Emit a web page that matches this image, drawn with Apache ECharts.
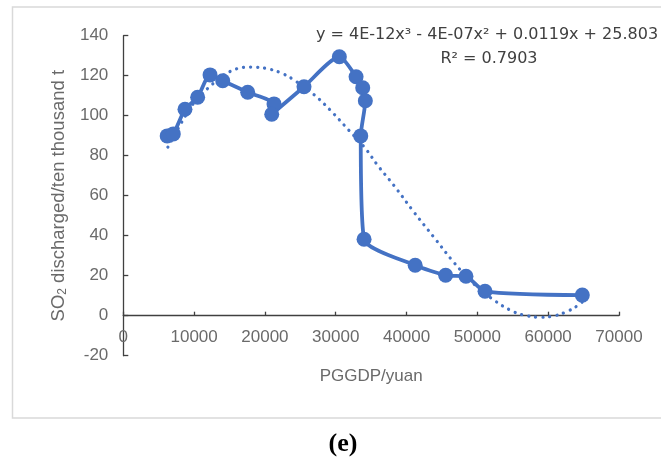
<!DOCTYPE html>
<html>
<head>
<meta charset="utf-8">
<script src="https://cdn.jsdelivr.net/npm/echarts@6/dist/echarts.min.js"></script>
<style>html,body{margin:0;padding:0;background:#fff}#c{width:661px;height:459px}</style>
</head>
<body>
<div id="c"></div>
<script>
// Observed data (PGGDP yuan, SO2 ten thousand t), in drawing order
var gdpValues = [6200, 7060, 8710, 10500, 12250, 14040, 17570, 21280, 20960, 25520, 30510, 32870, 33810, 34180, 33530, 34000, 41220, 45520, 48390, 51080, 64820];
var so2Values = [89.9, 90.9, 103.2, 109.2, 120.4, 117.5, 111.7, 105.9, 100.7, 114.5, 129.5, 119.5, 114.0, 107.5, 89.9, 38.2, 25.2, 20.2, 19.7, 12.2, 10.3];
// Dotted trendline
var trendX = [6300, 8500, 10000, 12000, 15000, 18000, 20200, 22400, 24300, 27000, 29300, 31800, 34100, 36000, 38200, 41000, 43800, 46600, 49400, 52300, 55100, 57000, 58600, 60700, 62600, 64300, 64800];
var trendY = [84.3, 98.3, 106.5, 113.9, 122.0, 124.3, 123.6, 121.2, 117.4, 110.3, 102.5, 92.9, 84.0, 74.8, 65.2, 52.0, 39.5, 27.0, 16.2, 7.9, 2.0, 0.0, -0.8, -0.2, 2.0, 5.3, 6.8];
var xTicks = [0, 10000, 20000, 30000, 40000, 50000, 60000, 70000];
var yTicks = [-20, 0, 20, 40, 60, 80, 100, 120, 140];
var equationText = 'y = 4E-12x³ - 4E-07x² + 0.0119x + 25.803';
var r2Text = 'R² = 0.7903';
var xTitle = 'PGGDP/yuan';
var panelLabel = '(e)';

var mainData = gdpValues.map(function (x, i) { return [x, so2Values[i]]; });
var trendData = trendX.map(function (x, i) { return [x, trendY[i]]; });

var FONT = 'Liberation Sans, Arial, sans-serif';
var BLUE = '#4472C4';
var AXIS = '#404040';
var LABEL = '#6a6a6a';

var chart = echarts.init(document.getElementById('c'), null, {renderer: 'canvas'});
chart.setOption({
  animation: false,
  backgroundColor: '#ffffff',
  textStyle: {fontFamily: FONT},
  grid: {left: 123.3, right: 42, top: 35.7, bottom: 103.3, containLabel: false},
  xAxis: {
    type: 'value',
    min: xTicks[0], max: xTicks[xTicks.length - 1], interval: 10000,
    offset: -40,
    axisLine: {onZero: false, lineStyle: {color: AXIS, width: 1.3}},
    axisTick: {show: true, inside: true, length: 4, lineStyle: {color: AXIS, width: 1.3}},
    axisLabel: {color: LABEL, fontSize: 17, margin: 13, fontFamily: FONT, formatter: function (v) { return String(v); }},
    splitLine: {show: false},
    name: xTitle, nameLocation: 'middle', nameGap: 52,
    nameTextStyle: {color: LABEL, fontSize: 17, fontFamily: FONT}
  },
  yAxis: {
    type: 'value',
    min: yTicks[0], max: yTicks[yTicks.length - 1], interval: 20,
    axisLine: {show: true, onZero: false, lineStyle: {color: AXIS, width: 1.3}},
    axisTick: {show: true, inside: true, length: 5, lineStyle: {color: AXIS, width: 1.3}},
    axisLabel: {color: LABEL, fontSize: 17, margin: 15, fontFamily: FONT},
    splitLine: {show: false},
    name: '{a|SO}{b|2}{a| discharged/ten thousand t}',
    nameLocation: 'middle', nameGap: 49,
    nameTextStyle: {
      color: LABEL, fontSize: 18.5, fontFamily: FONT,
      rich: {
        a: {color: LABEL, fontSize: 18.5, fontFamily: FONT},
        b: {color: LABEL, fontSize: 12, fontFamily: FONT, padding: [9, 0, 0, 0]}
      }
    }
  },
  series: [
    {
      type: 'line', data: trendData, smooth: 0.4, showSymbol: false, symbol: 'none',
      lineStyle: {color: BLUE, width: 3.2, type: [0.1, 7], cap: 'round'},
      z: 1, silent: true
    },
    {
      type: 'line', data: mainData, smooth: 0.22, symbol: 'circle', symbolSize: 15,
      itemStyle: {color: BLUE},
      lineStyle: {color: BLUE, width: 3.8},
      z: 2
    }
  ],
  graphic: [
    {type: 'rect', shape: {x: 12.5, y: 7, width: 700, height: 411}, style: {fill: 'none', stroke: '#d9d9d9', lineWidth: 1.5}, silent: true},
    {type: 'text', x: 487, y: 35, style: {text: equationText, fill: '#404040', font: '16px DejaVu Sans, sans-serif', textAlign: 'center', textVerticalAlign: 'middle'}},
    {type: 'text', x: 489, y: 59, style: {text: r2Text, fill: '#404040', font: '16px DejaVu Sans, sans-serif', textAlign: 'center', textVerticalAlign: 'middle'}},
    {type: 'text', x: 343, y: 444, style: {text: panelLabel, fill: '#000', font: 'bold 26px Liberation Serif, serif', textAlign: 'center', textVerticalAlign: 'middle'}}
  ]
});
</script>
</body>
</html>
